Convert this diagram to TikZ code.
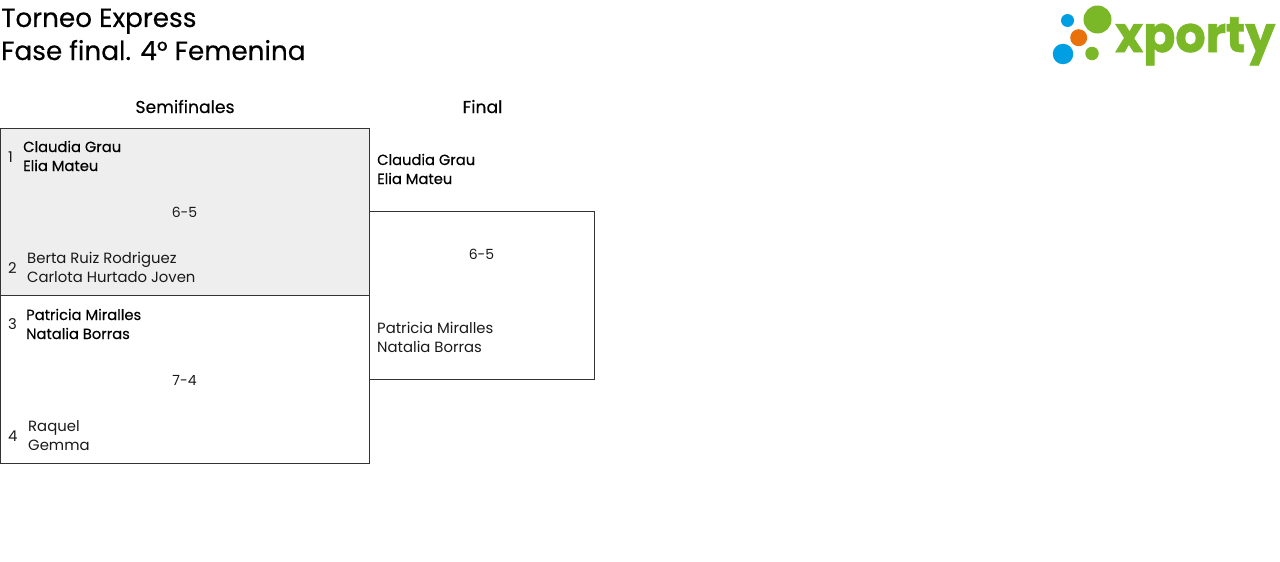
\documentclass[tikz,border=0pt]{standalone}
\usepackage{fontspec}
\setmainfont{Poppins}
\newfontfamily\logofont{Poppins}[BoldFeatures={FakeBold=1.2,FakeStretch=0.95}]
\newfontfamily\medfont{Poppins}[FakeBold=0.35]
\definecolor{shade}{HTML}{EEEEEE}
\definecolor{edge}{HTML}{333333}
\definecolor{lgreen}{HTML}{7AB828}
\definecolor{lblue}{HTML}{009FE3}
\definecolor{lorange}{HTML}{E8710A}
\tikzset{
 x=1pt,y=-1pt,
 matchbox/.style={draw=edge,line width=0.8pt,inner sep=0pt,anchor=north west},
 lbl/.style={anchor=base west,inner sep=0pt,font=\fontsize{14.85}{18}\selectfont,text=black!90},
 win/.style={anchor=base west,inner sep=0pt,font=\medfont\fontsize{14.7}{18}\selectfont,text=black},
 score/.style={anchor=base,inner sep=0pt,font=\fontsize{14}{18}\selectfont,text=black!90},
 head/.style={anchor=base,inner sep=0pt,font=\medfont\fontsize{17.2}{20}\selectfont,text=black},
 ttl/.style={anchor=base west,inner sep=0pt,font=\medfont\fontsize{26.3}{30}\selectfont,text=black},
 dot/.style={circle,inner sep=0pt,anchor=center},
}
\begin{document}
\begin{tikzpicture}
\useasboundingbox (0,0) rectangle (1280,562);
\node[ttl] (t1) at (1,27) {Torneo Express};
\node[ttl] (t2) at (1,60) {Fase final. 4° Femenina};
\node[head] (h1) at (185,113) {Semifinales};
\node[head] (h2) at (482.5,113) {Final};
\node[matchbox,fill=shade,minimum width=369,minimum height=167] (m1) at (-0.5,127.5) {};
\node[matchbox,minimum width=369,minimum height=168] (m2) at (-0.5,294.5) {};
\node[matchbox,minimum width=225,minimum height=168] (m3) at (368.5,210.5) {};
\node[lbl] (n1) at (8,162) {1};
\node[win] (a1) at (23,152) {Claudia Grau};
\node[win] (a2) at (23,171) {Elia Mateu};
\node[score] (s1) at (184.5,217) {6-5};
\node[lbl] (n2) at (8,273) {2};
\node[lbl] (b1) at (27,263) {Berta Ruiz Rodriguez};
\node[lbl] (b2) at (27,282) {Carlota Hurtado Joven};
\node[lbl] (n3) at (8,329) {3};
\node[win] (c1) at (26,320) {Patricia Miralles};
\node[win] (c2) at (26,339) {Natalia Borras};
\node[score] (s2) at (184.5,385) {7-4};
\node[lbl] (n4) at (8,441) {4};
\node[lbl] (d1) at (28,431) {Raquel};
\node[lbl] (d2) at (28,450) {Gemma};
\node[win] (e1) at (377,165) {Claudia Grau};
\node[win] (e2) at (377,184) {Elia Mateu};
\node[score] (s3) at (481.5,259) {6-5};
\node[lbl] (f1) at (377,333) {Patricia Miralles};
\node[lbl] (f2) at (377,352) {Natalia Borras};
\node[dot,fill=lblue,minimum size=13] (l1) at (1067.5,20.5) {};
\node[dot,fill=lgreen,minimum size=28] (l2) at (1097.5,19.5) {};
\node[dot,fill=lorange,minimum size=17] (l3) at (1078.7,37.7) {};
\node[dot,fill=lblue,minimum size=20.5] (l4) at (1063,54) {};
\node[dot,fill=lgreen,minimum size=13.5] (l5) at (1092,53.5) {};
\node[anchor=base west,inner sep=0pt,text=lgreen,font=\logofont\bfseries\fontsize{50}{50}\selectfont] (logo) at (1115,52) {xporty};
\end{tikzpicture}
\end{document}
